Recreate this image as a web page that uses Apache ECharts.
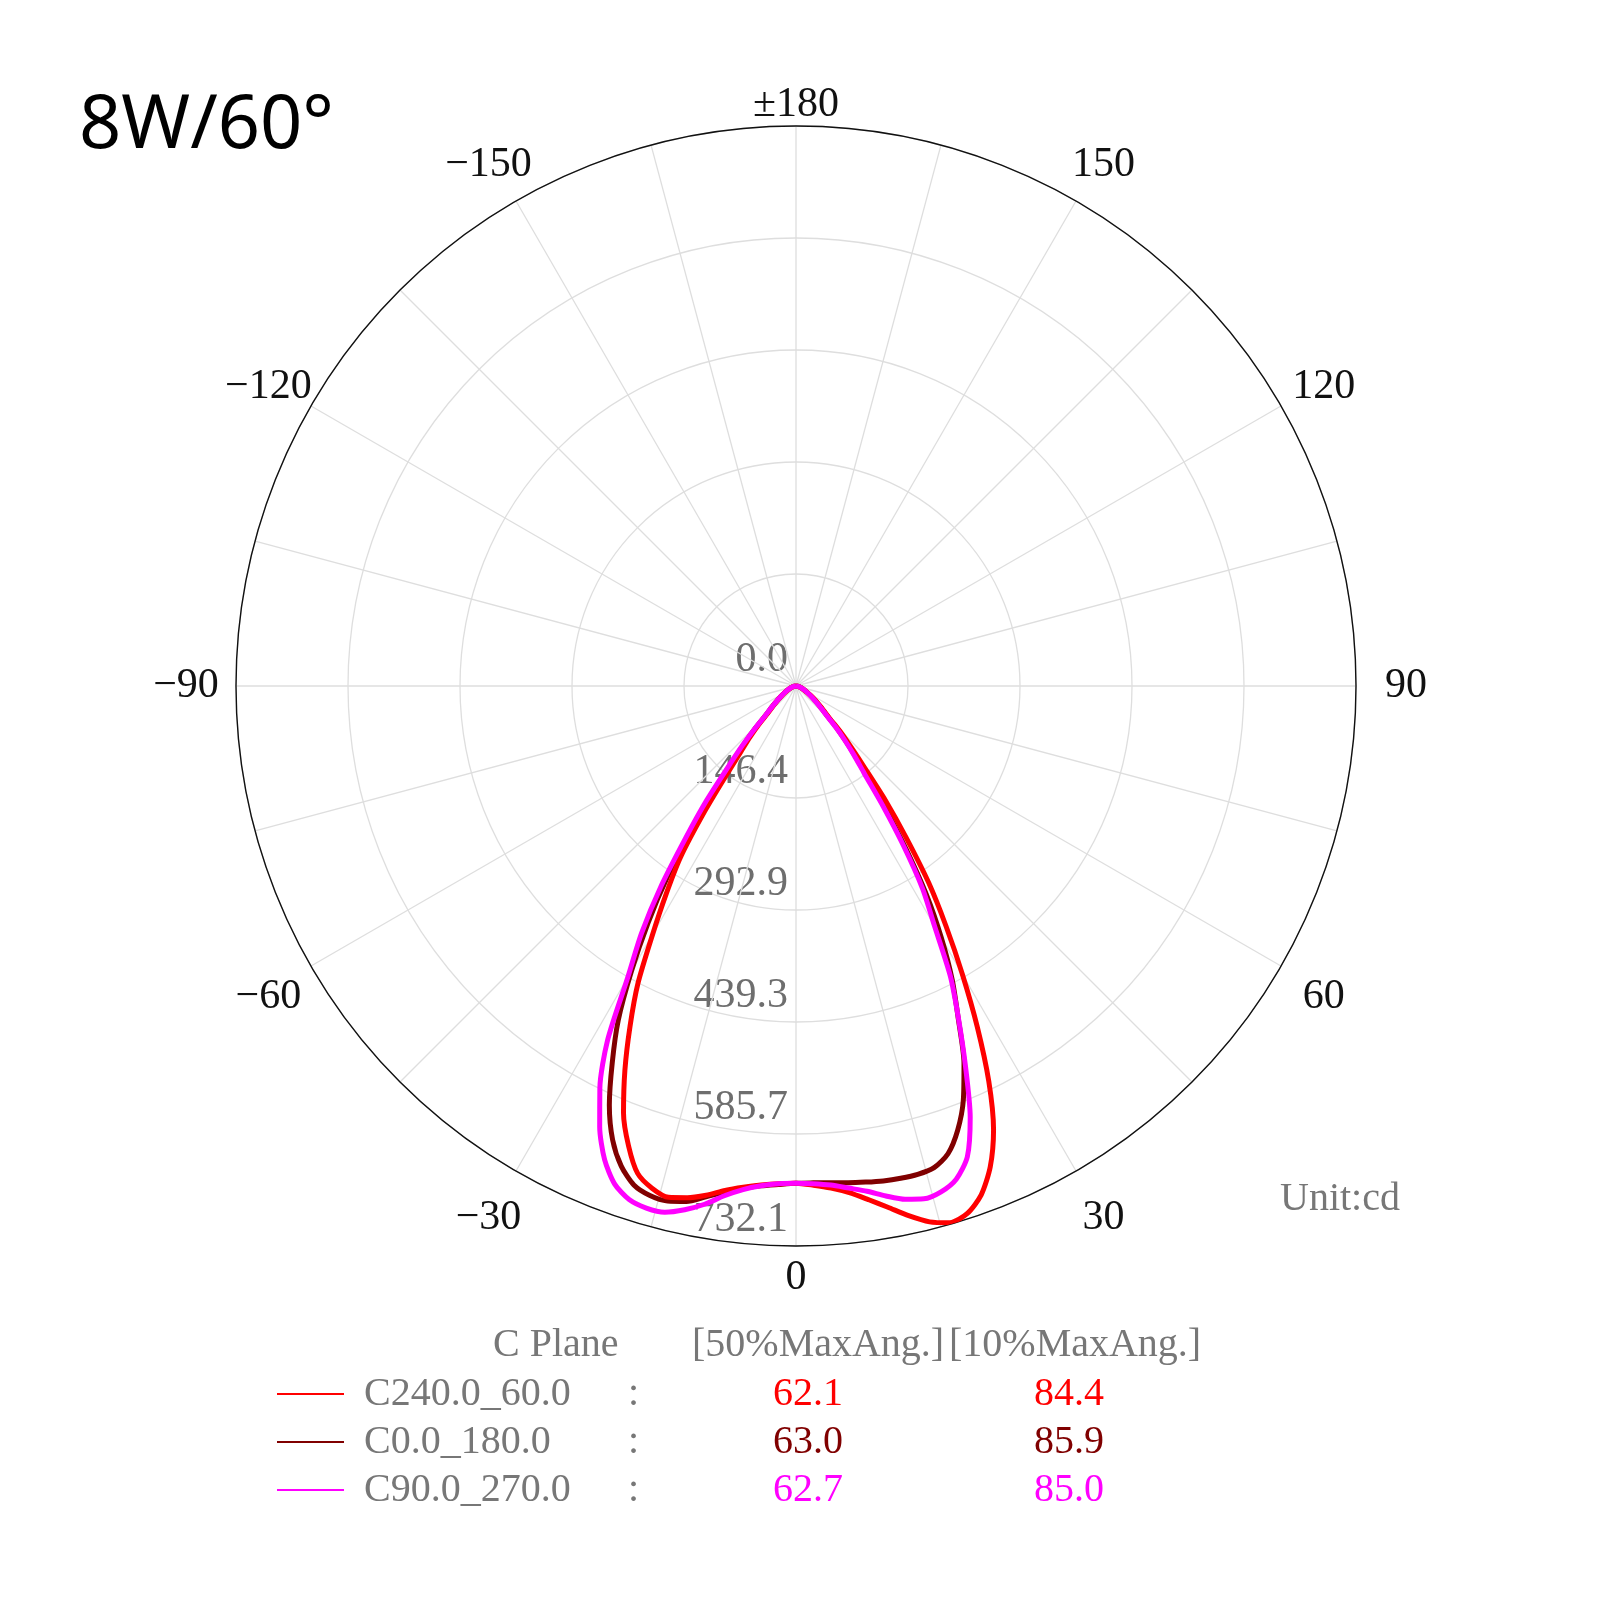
<!DOCTYPE html>
<html>
<head>
<meta charset="utf-8">
<title>8W/60°</title>
<script src="https://cdn.jsdelivr.net/npm/echarts@6/dist/echarts.min.js"></script>
<style>
    html, body { margin: 0; padding: 0; background: #fff; }
    #chart { width: 1600px; height: 1600px; }
</style>
</head>
<body>
<div id="chart"></div>
<script>
// gamma angles in degrees, 0 = straight down, negative = left half
const gammaAngles = [
    -90, -80, -70, -60, -55, -50, -46, -44, -42, -40, -38, -36, -34, -32, -30,
    -28, -26, -24, -22, -20, -18, -16, -14, -12, -10, -8, -6, -4, -2,
    0,
    2, 4, 6, 8, 10, 12, 14, 16, 18, 20, 22, 24, 26, 28, 30, 32, 34, 36, 38, 40,
    42, 44, 46, 50, 55, 60, 70, 80, 90,
];
// intensities in cd, one per angle
const c240Values = [
    0, 3, 8, 16, 24, 36, 52, 70, 90, 112, 148, 205, 270, 320, 375,
    440, 495, 550, 602, 640, 670, 683, 689, 684, 676, 666, 659, 654, 651,
    650,
    653, 658, 666, 678, 692, 708, 722, 730, 725, 708, 678, 635, 575, 505, 435,
    370, 310, 245, 190, 140, 108, 85, 62, 42, 28, 17, 8, 3, 0,
];
const c0Values = [
    0, 3, 8, 17, 25, 38, 56, 76, 100, 132, 180, 232, 300, 365, 430,
    495, 548, 600, 640, 668, 686, 693, 694, 689, 678, 668, 660, 655, 652,
    650,
    650, 651, 653, 655, 657, 658, 658, 655, 643, 618, 584, 540, 484, 435, 380,
    322, 258, 200, 152, 122, 98, 78, 58, 40, 26, 17, 8, 3, 0,
];
const c90Values = [
    0, 3, 8, 17, 25, 38, 56, 78, 105, 138, 190, 245, 315, 381, 440,
    525, 585, 631, 668, 693, 706, 710, 709, 700, 688, 673, 662, 655, 651,
    650,
    651, 654, 660, 667, 677, 686, 691, 688, 678, 655, 608, 545, 485, 430, 362,
    312, 250, 192, 145, 118, 95, 75, 56, 38, 25, 17, 8, 3, 0,
];

const planeNames = ['C240.0_60.0', 'C0.0_180.0', 'C90.0_270.0'];
const planeColors = ['#ff0000', '#800000', '#ff00ff'];
const maxAng50 = ['62.1', '63.0', '62.7'];
const maxAng10 = ['84.4', '85.9', '85.0'];
const radiusTicks = ['0.0', '146.4', '292.9', '439.3', '585.7', '732.1'];
const radiusMax = 732.14;

const serifFont = '"Liberation Serif", "DejaVu Serif", serif';

// polar data is [radius, angle]; the angle axis runs 0..360 from the bottom
function toPolar(values) {
    return values.map((v, i) => {
        const a = gammaAngles[i];
        return [v, a < 0 ? a + 360 : a];
    });
}

const seriesValues = {
    'C240.0_60.0': c240Values,
    'C0.0_180.0': c0Values,
    'C90.0_270.0': c90Values,
};
// draw order: dark red, red, magenta on top
const drawOrder = ['C0.0_180.0', 'C240.0_60.0', 'C90.0_270.0'];

const richLegend = {
    g: { width: 15 },
    n: { width: 264, color: '#777', fontFamily: serifFont, fontSize: 40 },
    c: { width: 145, color: '#777', fontFamily: serifFont, fontSize: 40 },
};
planeColors.forEach((col, i) => {
    richLegend['a' + i] = { width: 261, color: col, fontFamily: serifFont, fontSize: 40 };
    richLegend['b' + i] = { color: col, fontFamily: serifFont, fontSize: 40 };
});

// angle labels: same-width boxes, pushed out by side padding and line height
function angleLabelStyle(padH, lineH) {
    return {
        width: 90,
        lineHeight: lineH,
        align: 'center',
        padding: [0, padH, 0, padH],
        fontFamily: serifFont,
        fontSize: 42,
        color: '#111',
    };
}
const angleRich = {
    a0: angleLabelStyle(0, 134),
    a30: angleLabelStyle(0, 155),
    a60: angleLabelStyle(28, 97),
    a90: angleLabelStyle(40, 40),
    a120: angleLabelStyle(28, 73),
    a150: angleLabelStyle(0, 133),
    a180: angleLabelStyle(0, 112),
};

let chart = echarts.init(document.getElementById('chart'));
let option = {
    animation: false,
    backgroundColor: '#fff',
    title: [
        {
            text: '8W/60°',
            left: 74,
            top: 85,
            textStyle: {
                fontFamily: '"Noto Sans", "Open Sans", sans-serif',
                fontSize: 74,
                fontWeight: 'normal',
                color: '#000',
            },
        },
        {
            text: 'Unit:cd',
            left: 1275,
            top: 1174,
            textStyle: {
                fontFamily: serifFont,
                fontSize: 40,
                fontWeight: 'normal',
                color: '#777',
            },
        },
        {
            text: '{h1|C Plane}{h2|[50%MaxAng.]}{h3|[10%MaxAng.]}',
            left: 488,
            top: 1320,
            textStyle: {
                fontWeight: 'normal',
                rich: {
                    h1: { width: 199, color: '#777', fontFamily: serifFont, fontSize: 40, fontWeight: 'normal' },
                    h2: { width: 257, color: '#777', fontFamily: serifFont, fontSize: 40, fontWeight: 'normal' },
                    h3: { color: '#777', fontFamily: serifFont, fontSize: 40, fontWeight: 'normal' },
                },
            },
        },
    ],
    legend: {
        data: planeNames,
        orient: 'vertical',
        left: 277,
        top: 1372,
        padding: 0,
        icon: 'rect',
        itemWidth: 67,
        itemHeight: 2,
        itemGap: 4,
        selectedMode: false,
        formatter: function (name) {
            const i = planeNames.indexOf(name);
            return '{g| }{n|' + name + '}{c|:}{a' + i + '|' + maxAng50[i] + '}{b' + i + '|' + maxAng10[i] + '}';
        },
        textStyle: {
            lineHeight: 44,
            rich: richLegend,
        },
    },
    polar: {
        center: [796, 686],
        radius: 560,
    },
    angleAxis: {
        type: 'value',
        min: 0,
        max: 360,
        interval: 15,
        startAngle: -90,
        clockwise: false,
        z: 3,
        axisLine: { show: true, lineStyle: { color: '#111', width: 1.4 } },
        axisTick: { show: false },
        splitLine: { show: true, lineStyle: { color: '#dedede', width: 1.3 } },
        axisLabel: {
            margin: -35,
            rich: angleRich,
            formatter: function (v) {
                if (v % 30 !== 0 || v === 360) {
                    return '';
                }
                const key = 'a' + (v > 180 ? 360 - v : v);
                let text;
                if (v === 180) {
                    text = '±180';
                } else {
                    text = v > 180 ? '−' + (360 - v) : String(v);
                }
                return '{' + key + '|' + text + '}';
            },
        },
    },
    radiusAxis: {
        type: 'value',
        min: 0,
        max: radiusMax,
        interval: radiusMax / 5,
        axisLine: { show: false },
        axisTick: { show: false },
        splitLine: { show: true, lineStyle: { color: '#dedede', width: 1.3 } },
        axisLabel: {
            margin: -8,
            align: 'right',
            verticalAlign: 'bottom',
            lineHeight: 40,
            padding: [0, 0, 6, 0],
            fontFamily: serifFont,
            fontSize: 42,
            color: '#6e6e6e',
            showMinLabel: true,
            showMaxLabel: true,
            formatter: function (v) {
                return radiusTicks[Math.round(v / (radiusMax / 5))];
            },
        },
    },
    series: drawOrder.map((name) => ({
        name: name,
        type: 'line',
        coordinateSystem: 'polar',
        showSymbol: false,
        smooth: 0.25,
        color: planeColors[planeNames.indexOf(name)],
        lineStyle: { width: 5 },
        data: toPolar(seriesValues[name]),
        z: 4,
    })),
};
chart.setOption(option);
</script>
</body>
</html>
